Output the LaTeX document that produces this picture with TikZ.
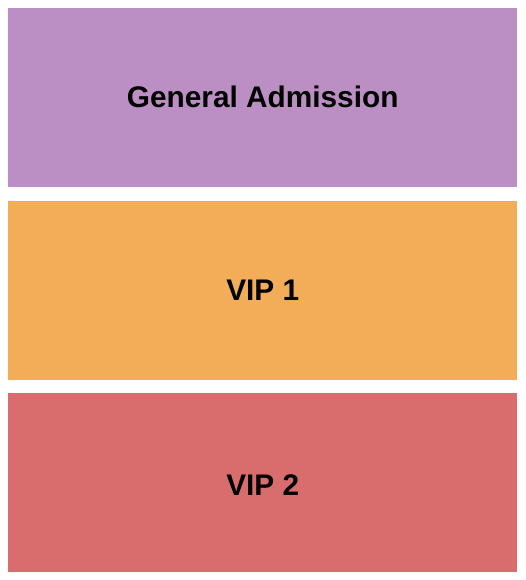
\documentclass[tikz,border=0pt]{standalone}
\usepackage{fontspec}
\setmainfont{Liberation Sans}
\usetikzlibrary{positioning}
\definecolor{gacolor}{HTML}{BB8FC3}
\definecolor{vipacolor}{HTML}{F3AD58}
\definecolor{vipbcolor}{HTML}{D96D6D}

\begin{document}
\begin{tikzpicture}[x=1pt, y=-1pt, every node/.style={font=\fontsize{29.8}{32}\selectfont\bfseries}]
  \tikzset{section/.style={minimum width=509pt, minimum height=179pt, inner sep=0pt, anchor=north west, text=black}}
  \useasboundingbox (0,0) rectangle (525,580);
  \node[section, fill=gacolor] (ga) at (8,8) {};
  \node[section, fill=vipacolor] (vipa) at (8,201) {};
  \node[section, fill=vipbcolor] (vipb) at (8,393) {};

  % labels sit a little above each box's centre
  \node at ([yshift=1pt]ga.center) (galabel) {General Admission};
  \node at ([yshift=0pt]vipa.center) (vipalabel) {VIP 1};
  \node at ([yshift=-2pt]vipb.center) (vipblabel) {VIP 2};
\end{tikzpicture}
\end{document}
